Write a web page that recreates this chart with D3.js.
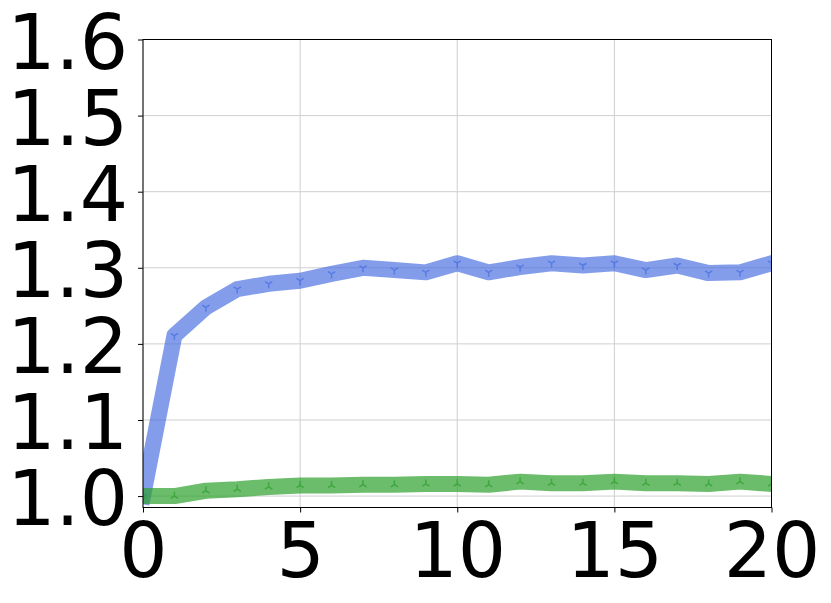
<!DOCTYPE html>
<html>
<head>
<meta charset="utf-8">
<script src="https://cdn.jsdelivr.net/npm/d3@7"></script>
<style>
  html, body { margin: 0; padding: 0; background: #fff; }
  svg { display: block; }
</style>
</head>
<body>
<svg id="chart" width="831" height="603"></svg>
<script>
// data
const steps = [0, 1, 2, 3, 4, 5, 6, 7, 8, 9, 10, 11, 12, 13, 14, 15, 16, 17, 18, 19, 20]
const blueSeries = [1.000, 1.211, 1.248, 1.272, 1.279, 1.283, 1.292, 1.300, 1.297, 1.294, 1.306,
  1.294, 1.301, 1.306, 1.303, 1.306, 1.297, 1.303, 1.293, 1.294, 1.306]
const greenSeries = [1.000, 1.000, 1.007, 1.009, 1.012, 1.014, 1.014, 1.015, 1.015, 1.016, 1.016,
  1.015, 1.019, 1.017, 1.017, 1.019, 1.017, 1.017, 1.016, 1.019, 1.016]
const xTicks = [0, 5, 10, 15, 20]
const yTicks = [1.0, 1.1, 1.2, 1.3, 1.4, 1.5, 1.6]

const margin = { top: 39.5, right: 59.5, bottom: 95.5, left: 143 }
const width = 831
const height = 603
const fontSize = 76

const svg = d3.select('#chart')

const x = d3.scaleLinear().domain([0, 20]).range([margin.left, width - margin.right])
const y = d3.scaleLinear().domain([0.985, 1.6]).range([height - margin.bottom, margin.top])

// clip for the plot area
svg.append('defs').append('clipPath').attr('id', 'plot-clip')
  .append('rect')
  .attr('x', x(0)).attr('y', y(1.6))
  .attr('width', x(20) - x(0)).attr('height', y(0.985) - y(1.6))

// grid
const grid = svg.append('g').attr('id', 'grid')
grid.selectAll('.gx').data(xTicks).join('line')
  .attr('x1', (d) => x(d)).attr('x2', (d) => x(d))
  .attr('y1', y(0.985)).attr('y2', y(1.6))
  .attr('stroke', '#cfcfcf').attr('stroke-width', 1)
grid.selectAll('.gy').data(yTicks).join('line')
  .attr('x1', x(0)).attr('x2', x(20))
  .attr('y1', (d) => y(d)).attr('y2', (d) => y(d))
  .attr('stroke', '#cfcfcf').attr('stroke-width', 1)

const series = [
  { key: 'blue', values: blueSeries, color: '#4169e1', opacity: 0.65, marker: 'down' },
  { key: 'green', values: greenSeries, color: '#2ca02c', opacity: 0.7, marker: 'up' },
]

const line = d3.line()
  .x((d, i) => x(steps[i]))
  .y((d) => y(d))

const plot = svg.append('g').attr('id', 'viz').attr('clip-path', 'url(#plot-clip)')

series.forEach((s) => {
  const g = plot.append('g').attr('id', s.key)
  g.append('path')
    .datum(s.values)
    .attr('d', line)
    .attr('fill', 'none')
    .attr('stroke', s.color)
    .attr('stroke-opacity', s.opacity)
    .attr('stroke-width', 16)
    .attr('stroke-linejoin', 'round')
    .attr('stroke-linecap', 'square')

  // tri markers
  const r = 4.5
  const tri = s.marker === 'down'
    ? `M0,0V${r}M0,0L${0.8 * r},${-0.5 * r}M0,0L${-0.8 * r},${-0.5 * r}`
    : `M0,0V${-r}M0,0L${0.8 * r},${0.5 * r}M0,0L${-0.8 * r},${0.5 * r}`
  g.selectAll('.marker').data(s.values).join('path')
    .attr('class', 'marker')
    .attr('transform', (d, i) => `translate(${x(steps[i])},${y(d)})`)
    .attr('d', tri)
    .attr('fill', 'none')
    .attr('stroke', s.color)
    .attr('stroke-opacity', s.opacity)
    .attr('stroke-width', 1.5)
})

// spines
svg.append('rect')
  .attr('x', x(0)).attr('y', y(1.6))
  .attr('width', x(20) - x(0)).attr('height', y(0.985) - y(1.6))
  .attr('fill', 'none').attr('stroke', '#000').attr('stroke-width', 1)

// axes
const xAxis = svg.append('g').attr('id', 'xAxis')
  .attr('transform', `translate(0,${y(0.985)})`)
  .call(d3.axisBottom(x).tickValues(xTicks).tickSize(5).tickPadding(2).tickSizeOuter(0))
xAxis.select('.domain').remove()
xAxis.selectAll('text')
  .attr('font-family', 'DejaVu Sans')
  .attr('font-size', fontSize)
  .attr('fill', '#000')
  .attr('dy', null)
  .attr('y', 69)

const yAxis = svg.append('g').attr('id', 'yAxis')
  .attr('transform', `translate(${x(0)},0)`)
  .call(d3.axisLeft(y).tickValues(yTicks).tickFormat(d3.format('.1f')).tickSize(5).tickSizeOuter(0))
yAxis.select('.domain').remove()
yAxis.selectAll('text')
  .attr('font-family', 'DejaVu Sans')
  .attr('font-size', fontSize)
  .attr('fill', '#000')
  .attr('x', -15)
  .attr('dy', null)
  .attr('y', 28.5)
</script>
</body>
</html>
